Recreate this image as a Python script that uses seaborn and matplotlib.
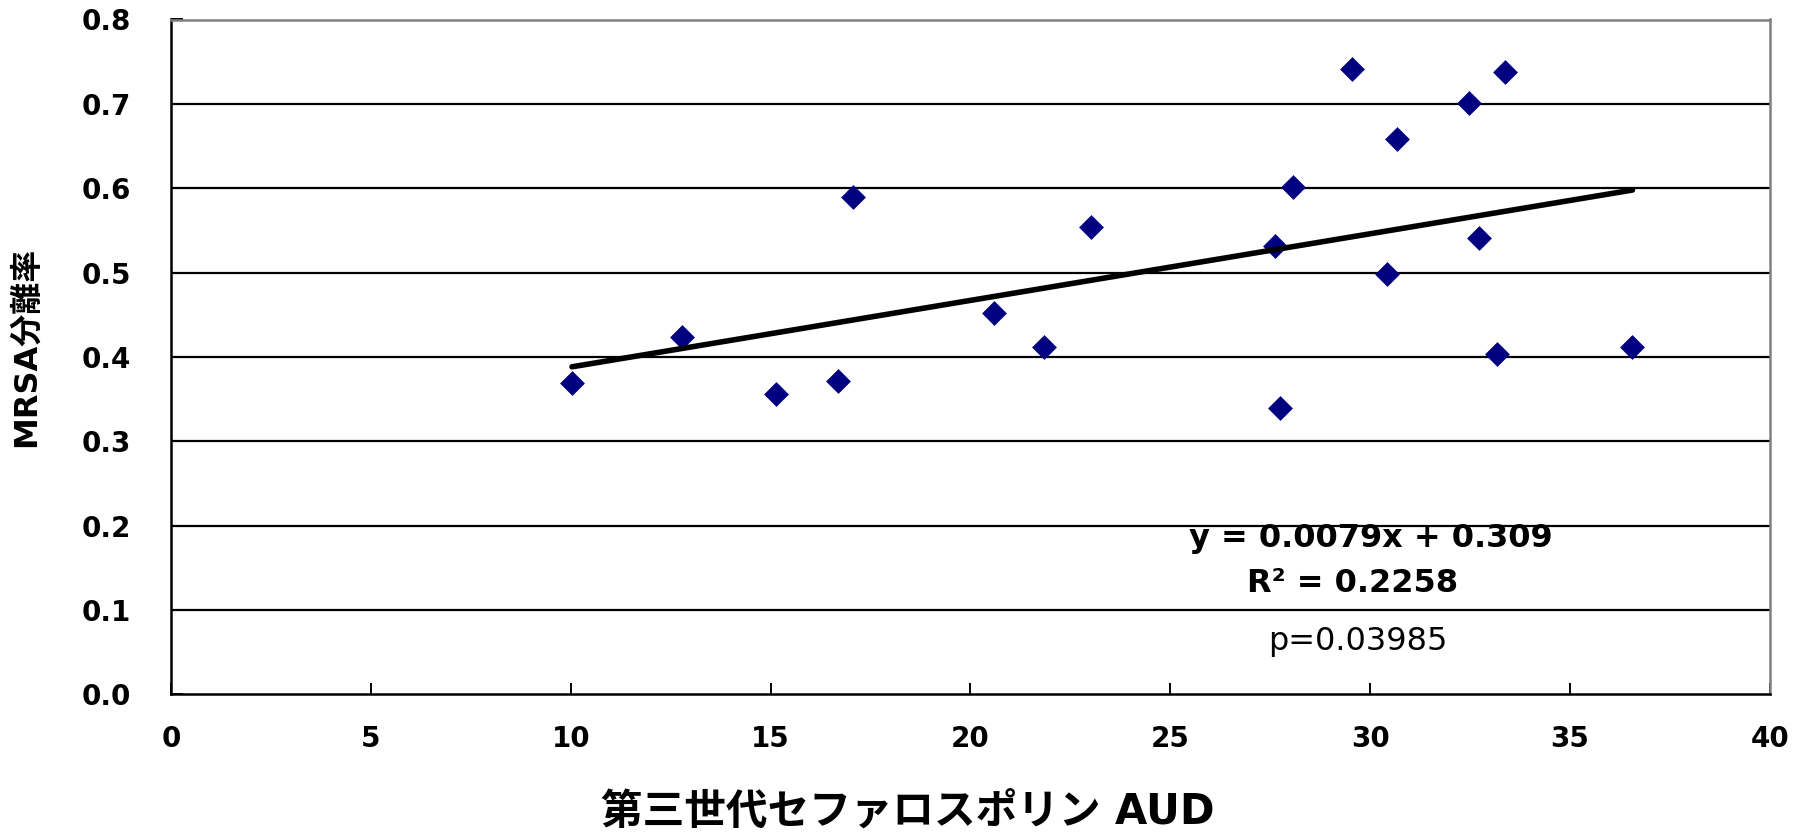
import numpy as np
import pandas as pd
import matplotlib
matplotlib.use("Agg")
import matplotlib.pyplot as plt
import seaborn as sns

# Third-generation cephalosporin AUD vs. MRSA isolation rate
aud = [10.03, 12.79, 15.14, 16.69, 17.07, 20.58, 21.85, 23.01, 27.62, 27.75,
       28.06, 29.54, 30.41, 30.68, 32.47, 32.72, 33.17, 33.38, 36.56]
mrsa_rate = [0.369, 0.424, 0.356, 0.372, 0.589, 0.452, 0.412, 0.554, 0.532, 0.340,
             0.602, 0.741, 0.498, 0.658, 0.701, 0.541, 0.404, 0.738, 0.412]

# Linear trend reported on the chart
slope = 0.0079
intercept = 0.309
r_squared = 0.2258
p_value = 0.03985

x_ticks = [0, 5, 10, 15, 20, 25, 30, 35, 40]
y_ticks = [0.0, 0.1, 0.2, 0.3, 0.4, 0.5, 0.6, 0.7, 0.8]
x_label = "第三世代セファロスポリン AUD"
y_label = "MRSA分離率"

sns.set_theme(style="white")
plt.rcParams["font.family"] = ["DejaVu Sans", "Noto Sans CJK JP"]
plt.rcParams["text.color"] = "black"

W, H = 1808, 834
fig = plt.figure(figsize=(W / 100, H / 100), dpi=100)
left, right, top, bottom = 171, 1770, 19.5, 694.3
ax = fig.add_axes([left / W, (H - bottom) / H, (right - left) / W, (bottom - top) / H])

df = pd.DataFrame({"aud": aud, "rate": mrsa_rate})
trend_x = np.array([min(aud), max(aud)])
trend = pd.DataFrame({"aud": trend_x, "rate": slope * trend_x + intercept})

sns.scatterplot(data=df, x="aud", y="rate", marker="D", s=160, color="#000080",
                linewidth=0, ax=ax, zorder=3)
sns.lineplot(data=trend, x="aud", y="rate", color="black", linewidth=4.0, ax=ax,
             zorder=4)

ax.set_xlim(0, 40)
ax.set_ylim(0, 0.8)
ax.set_xticks(x_ticks)
ax.set_yticks(y_ticks)
ax.set_xticklabels([str(v) for v in x_ticks])
ax.set_yticklabels([f"{v:.1f}" for v in y_ticks])

# Horizontal gridlines at each 0.1 step (top edge is the grey frame)
for v in y_ticks[1:-1]:
    ax.axhline(v, color="black", linewidth=1.6, zorder=1)

for side in ("left", "bottom"):
    ax.spines[side].set_color("black")
    ax.spines[side].set_linewidth(1.8)
for side in ("top", "right"):
    ax.spines[side].set_color("#808080")
    ax.spines[side].set_linewidth(1.8)

ax.tick_params(axis="x", direction="in", length=8, width=1.4, color="black",
               labelcolor="black", pad=22, labelsize=20, bottom=True)
ax.tick_params(axis="y", direction="in", length=8.5, width=1.4, color="black",
               labelcolor="black", pad=29, labelsize=20, left=True)
for lab in ax.get_xticklabels() + ax.get_yticklabels():
    lab.set_fontweight("bold")

ax.set_xlabel("")
ax.set_ylabel("")
fig.text(908 / W, 1 - 812 / H, x_label, ha="center", va="center",
         fontsize=30, fontweight="bold")
fig.text(26 / W, 1 - 347 / H, y_label, ha="center", va="center",
         rotation=90, fontsize=23, fontweight="bold")

ax.text(30.02, 0.1746, f"y = {slope}x + {intercept}", ha="center", va="baseline",
        fontsize=23, fontweight="bold", zorder=5)
ax.text(29.57, 0.1214, f"R² = {r_squared}", ha="center", va="baseline",
        fontsize=23, fontweight="bold", zorder=5)
ax.text(29.69, 0.0527, f"p={p_value}", ha="center", va="baseline",
        fontsize=23, zorder=5)

fig.savefig("out.png", dpi=100, facecolor="white")
